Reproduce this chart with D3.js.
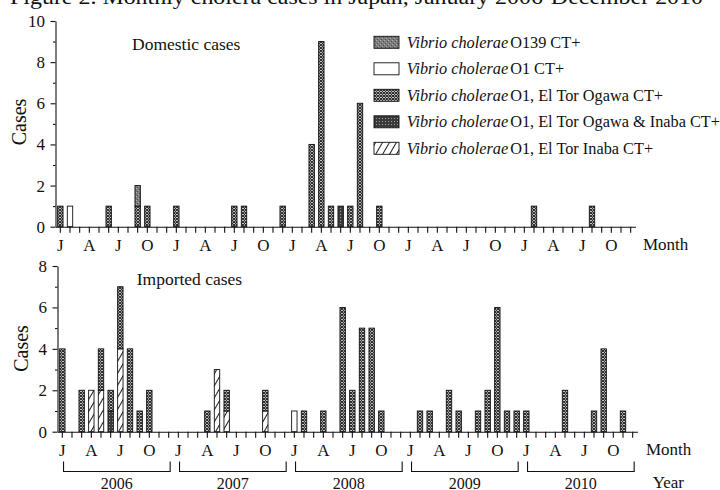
<!DOCTYPE html>
<html>
<head>
<meta charset="utf-8">
<script src="https://cdn.jsdelivr.net/npm/d3@7"></script>
<style>
  body { margin: 0; background: #fff; }
  svg text { font-family: "Liberation Serif", "Times New Roman", serif; fill: #111; }
</style>
</head>
<body>
<div id="root"></div>
<script>
// months Jan 2006 .. Dec 2010, one value per month
const years = ["2006", "2007", "2008", "2009", "2010"]
const quarterLetters = ["J", "A", "J", "O"]

// domestic cases
const domOgawa = [
  1,0,0,0,0,1,0,0,1,1,0,0,   // 2006
  1,0,0,0,0,0,1,1,0,0,0,1,   // 2007
  0,0,4,9,1,0,1,6,0,1,0,0,   // 2008
  0,0,0,0,0,0,0,0,0,0,0,0,   // 2009
  0,1,0,0,0,0,0,1,0,0,0,0    // 2010
]
const domO139 = [
  0,0,0,0,0,0,0,0,1,0,0,0,
  0,0,0,0,0,0,0,0,0,0,0,0,
  0,0,0,0,0,0,0,0,0,0,0,0,
  0,0,0,0,0,0,0,0,0,0,0,0,
  0,0,0,0,0,0,0,0,0,0,0,0
]
const domO1 = [
  0,1,0,0,0,0,0,0,0,0,0,0,
  0,0,0,0,0,0,0,0,0,0,0,0,
  0,0,0,0,0,0,0,0,0,0,0,0,
  0,0,0,0,0,0,0,0,0,0,0,0,
  0,0,0,0,0,0,0,0,0,0,0,0
]
const domOgawaInaba = [
  0,0,0,0,0,0,0,0,0,0,0,0,
  0,0,0,0,0,0,0,0,0,0,0,0,
  0,0,0,0,0,1,0,0,0,0,0,0,
  0,0,0,0,0,0,0,0,0,0,0,0,
  0,0,0,0,0,0,0,0,0,0,0,0
]
const domInaba = new Array(60).fill(0)

// imported cases
const impOgawa = [
  4,0,2,0,2,1,3,4,1,2,0,0,   // 2006
  0,0,0,1,0,1,0,0,0,1,0,0,   // 2007
  0,1,0,1,0,6,2,5,5,1,0,0,   // 2008
  0,1,1,0,2,1,0,1,2,6,1,1,   // 2009
  1,0,0,0,2,0,0,1,4,0,1,0    // 2010
]
const impInaba = [
  0,0,0,2,2,0,4,0,0,0,0,0,
  0,0,0,0,3,1,0,0,0,1,0,0,
  0,0,0,0,0,0,0,0,0,0,0,0,
  0,0,0,0,0,0,0,0,0,0,0,0,
  0,0,0,0,0,0,0,0,0,0,0,0
]
const impOgawaInaba = [
  0,0,0,0,0,1,0,0,0,0,0,0,
  0,0,0,0,0,0,0,0,0,0,0,0,
  0,0,0,0,0,0,0,0,0,0,0,0,
  0,0,0,0,0,0,0,0,0,0,0,0,
  0,0,0,0,0,0,0,0,0,0,0,0
]
const impO1 = [
  0,0,0,0,0,0,0,0,0,0,0,0,
  0,0,0,0,0,0,0,0,0,0,0,0,
  1,0,0,0,0,0,0,0,0,0,0,0,
  0,0,0,0,0,0,0,0,0,0,0,0,
  0,0,0,0,0,0,0,0,0,0,0,0
]
const impO139 = new Array(60).fill(0)

// stack order, bottom first
const stackKeys = ["inaba", "ogawaInaba", "ogawa", "o139", "o1"]

const legendKeys = ["o139", "o1", "ogawa", "ogawaInaba", "inaba"]
const legendLabels = ["O139 CT+", "O1 CT+", "O1, El Tor Ogawa CT+", "O1, El Tor Ogawa & Inaba CT+", "O1, El Tor Inaba CT+"]

const monthIndex = d3.range(60)

function makeRows(src){
  return monthIndex.map(i => ({
    month: i,
    inaba: src.inaba[i], ogawaInaba: src.ogawaInaba[i], ogawa: src.ogawa[i],
    o139: src.o139[i], o1: src.o1[i]
  }))
}

const svg = d3.select("#root").append("svg")
  .attr("width", 720).attr("height", 490)

// fill patterns imitating the print
const defs = svg.append("defs")

let p = defs.append("pattern").attr("id", "p-ogawa")
  .attr("patternUnits", "userSpaceOnUse").attr("width", 3).attr("height", 3)
p.append("rect").attr("width", 3).attr("height", 3).attr("fill", "#fff")
p.append("path").attr("d", "M0,0L3,3M3,0L0,3").attr("stroke", "#222").attr("stroke-width", 1.05)

p = defs.append("pattern").attr("id", "p-o139")
  .attr("patternUnits", "userSpaceOnUse").attr("width", 4).attr("height", 4)
p.append("rect").attr("width", 4).attr("height", 4).attr("fill", "#7c7c7c")
p.append("rect").attr("x", 0).attr("y", 0).attr("width", 1).attr("height", 1).attr("fill", "#b0b0b0")
p.append("rect").attr("x", 2).attr("y", 2).attr("width", 1).attr("height", 1).attr("fill", "#a8a8a8")
p.append("rect").attr("x", 1).attr("y", 3).attr("width", 1).attr("height", 1).attr("fill", "#505050")
p.append("rect").attr("x", 3).attr("y", 1).attr("width", 1).attr("height", 1).attr("fill", "#505050")

p = defs.append("pattern").attr("id", "p-ogawaInaba")
  .attr("patternUnits", "userSpaceOnUse").attr("width", 3).attr("height", 3)
p.append("rect").attr("width", 3).attr("height", 3).attr("fill", "#3a3a3a")
p.append("rect").attr("x", 1).attr("y", 1).attr("width", 1).attr("height", 1).attr("fill", "#9c9c9c")

p = defs.append("pattern").attr("id", "p-inaba")
  .attr("patternUnits", "userSpaceOnUse").attr("width", 6).attr("height", 6)
  .attr("patternTransform", "rotate(30)")
p.append("rect").attr("width", 6).attr("height", 6).attr("fill", "#fff")
p.append("line").attr("x1", 0.5).attr("x2", 0.5).attr("y1", 0).attr("y2", 6)
  .attr("stroke", "#1a1a1a").attr("stroke-width", 1)

const fills = {
  ogawa: "url(#p-ogawa)", o139: "url(#p-o139)", ogawaInaba: "url(#p-ogawaInaba)",
  inaba: "url(#p-inaba)", o1: "#fff"
}

// title line, cut by the top edge as in the scan
svg.append("text")
  .attr("x", 10).attr("y", 3.5)
  .attr("textLength", 693).attr("lengthAdjust", "spacingAndGlyphs")
  .style("font-size", "20px")
  .text("Figure 2. Monthly cholera cases in Japan, January 2006-December 2010")

function drawPanel(cfg){
  const x = d3.scaleBand().domain(monthIndex).range(cfg.xRange)
  const y = d3.scaleLinear().domain([0, cfg.max]).range([cfg.yBase, cfg.yTop])
  const g = svg.append("g")
  const x0 = cfg.xRange[0]

  const stacked = d3.stack().keys(stackKeys)(makeRows(cfg.data))
  const barW = 5.4

  g.selectAll("g.layer").data(stacked).enter()
    .append("g").attr("class", "layer")
    .selectAll("rect")
    .data(layer => layer.map(d => ({key: layer.key, y0: d[0], y1: d[1], month: d.data.month})).filter(d => d.y1 > d.y0))
    .enter().append("rect")
    .attr("x", d => x(d.month) + x.bandwidth() / 2 - barW / 2)
    .attr("y", d => y(d.y1))
    .attr("width", barW)
    .attr("height", d => y(d.y0) - y(d.y1))
    .attr("fill", d => fills[d.key])
    .attr("stroke", "#111").attr("stroke-width", 0.9)

  // y axis
  const yAxis = g.append("g").attr("transform", `translate(${x0},0)`)
    .call(d3.axisLeft(y).tickValues(d3.range(0, cfg.max + 1, 2)).tickSize(5).tickSizeOuter(0).tickPadding(5.5))
  g.append("g").attr("transform", `translate(${x0},0)`)
    .call(d3.axisLeft(y).tickValues(d3.range(1, cfg.max, 2)).tickSize(2.5).tickFormat(""))
    .select(".domain").remove()

  // month axis
  const xAxis = g.append("g").attr("transform", `translate(0,${cfg.yBase})`)
    .call(d3.axisBottom(x).tickSize(6).tickSizeOuter(0).tickPadding(5.8)
      .tickFormat(i => i % 3 === 0 ? quarterLetters[(i % 12) / 3] : ""))

  for (const ax of [yAxis, xAxis]) {
    ax.selectAll("text").attr("font-family", null).attr("font-size", null)
      .style("font-size", "17px").attr("fill", "#111")
    ax.selectAll("line, path").attr("stroke", "#111").attr("stroke-width", 1.1)
  }

  g.append("text")
    .attr("transform", `translate(${cfg.casesX},${cfg.casesY}) rotate(-90)`)
    .attr("text-anchor", "middle")
    .style("font-size", "20px")
    .text("Cases")

  g.append("text")
    .attr("x", cfg.titleX).attr("y", cfg.titleY)
    .style("font-size", "17.5px")
    .text(cfg.title)

  g.append("text")
    .attr("x", cfg.monthX).attr("y", cfg.yBase + 23.5)
    .style("font-size", "17px")
    .text("Month")

  return x
}

drawPanel({
  data: {ogawa: domOgawa, o139: domO139, o1: domO1, ogawaInaba: domOgawaInaba, inaba: domInaba},
  xRange: [55.5, 635.5], yTop: 21, yBase: 226.7, max: 10,
  title: "Domestic cases", titleX: 132, titleY: 50,
  casesX: 26, casesY: 122, monthX: 643
})

const xb = drawPanel({
  data: {ogawa: impOgawa, o139: impO139, o1: impO1, ogawaInaba: impOgawaInaba, inaba: impInaba},
  xRange: [57.5, 637.5], yTop: 266, yBase: 431.7, max: 8,
  title: "Imported cases", titleX: 136.7, titleY: 285,
  casesX: 28, casesY: 348.5, monthX: 646
})

// year brackets under the imported panel
const half = xb.bandwidth() / 2
const brackets = svg.append("g")
years.forEach((yr, k) => {
  const a = xb(k * 12) + half + 1.2
  const b = xb(k * 12 + 11) + half + 1.5
  brackets.append("path")
    .attr("d", `M${a},461.5V471.5H${b}V461.5`)
    .attr("fill", "none").attr("stroke", "#111").attr("stroke-width", 1.1)
  brackets.append("text")
    .attr("x", (a + b) / 2).attr("y", 488.5)
    .attr("text-anchor", "middle")
    .style("font-size", "16px")
    .text(yr)
})
svg.append("text").attr("x", 652.7).attr("y", 487.5)
  .style("font-size", "17px").text("Year")

// legend
const legend = svg.append("g")
legendKeys.forEach((key, i) => {
  const cy = 42.3 + i * 26.5
  legend.append("rect")
    .attr("x", 374).attr("y", cy - 6).attr("width", 25).attr("height", 12)
    .attr("fill", fills[key]).attr("stroke", "#111").attr("stroke-width", 0.9)
  const t = legend.append("text").attr("x", 406.7).attr("y", cy + 5.5).style("font-size", "16.3px")
  t.append("tspan").style("font-style", "italic").text("Vibrio cholerae")
  t.append("tspan").attr("dx", 2).text(legendLabels[i])
})
</script>
</body>
</html>
